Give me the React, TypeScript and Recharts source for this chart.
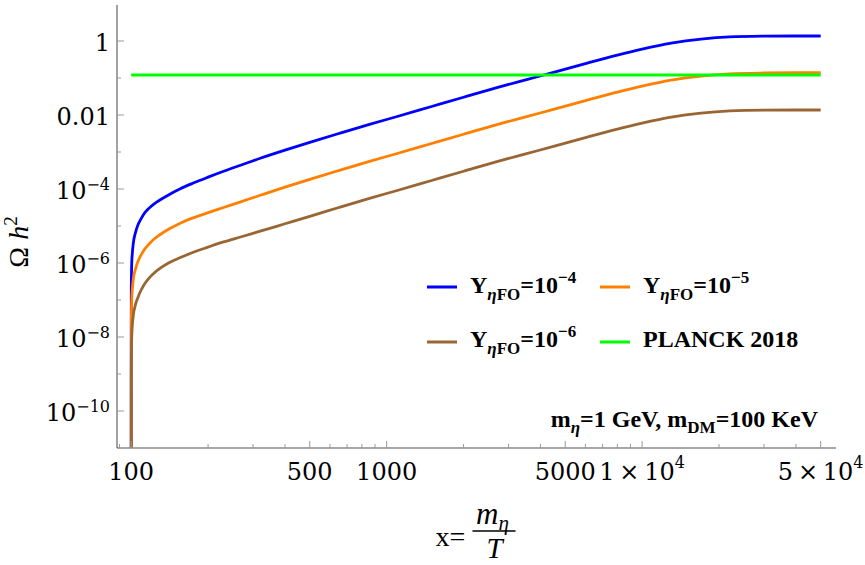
import { LineChart, Line, XAxis, YAxis, Legend, Customized } from "recharts";

// x = m_eta / T
const xVals = [
  100, 100.1, 100.5, 101, 102, 104, 106, 109, 112, 117, 123, 130, 140, 155, 175, 200, 230, 270, 320, 400,
  500, 650, 850, 1100, 1500, 2000, 2700, 3500, 4500, 6000, 8000, 10000, 13000, 17000, 22000, 30000, 40000, 50000,
];

// log10(Omega h^2), one per xVals entry
const blueLog = [
  -14, -6.7, -6.0, -5.75, -5.45, -5.17, -4.99, -4.82, -4.68, -4.53, -4.4, -4.29, -4.16, -4.0, -3.84, -3.68, -3.52, -3.35, -3.17, -2.95,
  -2.74, -2.5, -2.26, -2.04, -1.77, -1.52, -1.26, -1.05, -0.85, -0.61, -0.38, -0.22, -0.06, 0.05, 0.11, 0.13, 0.135, 0.135,
];
const orangeLog = [
  -14, -7.7, -7.0, -6.72, -6.42, -6.16, -5.98, -5.8, -5.66, -5.5, -5.35, -5.23, -5.09, -4.93, -4.78, -4.64, -4.5, -4.34, -4.17, -3.95,
  -3.74, -3.5, -3.26, -3.04, -2.77, -2.52, -2.26, -2.05, -1.85, -1.61, -1.38, -1.22, -1.06, -0.95, -0.89, -0.865, -0.858, -0.857,
];
const brownLog = [
  -14, -8.7, -8.0, -7.7, -7.4, -7.12, -6.95, -6.75, -6.6, -6.42, -6.27, -6.14, -6.0, -5.86, -5.71, -5.57, -5.43, -5.29, -5.14, -4.94,
  -4.74, -4.5, -4.26, -4.04, -3.77, -3.52, -3.26, -3.05, -2.85, -2.61, -2.38, -2.22, -2.06, -1.95, -1.89, -1.868, -1.865, -1.865,
];

// PLANCK 2018 relic density
const planckX = [100, 50000];
const planckVal = [0.12, 0.12];

const yfoExps = ["−4", "−5", "−6"];

const xMajor = [100, 500, 1000, 5000, 10000, 50000];
const xMajorLabels = [
  ["100", ""],
  ["500", ""],
  ["1000", ""],
  ["5000", ""],
  ["1\u2009×\u200910", "4"],
  ["5\u2009×\u200910", "4"],
];
const xMinor = [90, 200, 300, 400, 600, 700, 800, 900, 2000, 3000, 4000, 6000, 7000, 8000, 9000, 20000, 30000, 40000];

const yMajor = [1e-10, 1e-8, 1e-6, 1e-4, 0.01, 1];
const yMajorLabels = [
  ["10", "−10"],
  ["10", "−8"],
  ["10", "−6"],
  ["10", "−4"],
  ["0.01", ""],
  ["1", ""],
];
const yMinor = [1e-9, 1e-7, 1e-5, 1e-3, 0.1];

const rows = xVals.map((x, i) => ({
  x,
  blue: 10 ** blueLog[i],
  orange: 10 ** orangeLog[i],
  brown: 10 ** brownLog[i],
}));
const planckRows = planckX.map((x, i) => ({ x, planck: planckVal[i] }));

const xTicks = [...xMinor, ...xMajor].sort((a, b) => a - b);
const yTicks = [...yMinor, ...yMajor].sort((a, b) => a - b);

const TICK_FONT = "DejaVu Serif";
const TEXT_FONT = "Liberation Serif";
const TICK_COLOR = "#999";
const BLUE = "#0000ff";
const ORANGE = "#ff7f00";
const BROWN = "#996633";
const GREEN = "#00ff00";

function Label2({ x, y, parts, anchor, dy }: any) {
  return (
    <text x={x} y={y} textAnchor={anchor} fontFamily={TICK_FONT} fontSize={24} fill="#000">
      {parts[0]}
      {parts[1] && (
        <tspan dy={dy} fontSize={16}>
          {parts[1]}
        </tspan>
      )}
    </text>
  );
}

function XTick(props: any) {
  const { x, y, payload, side } = props;
  const i = xMajor.indexOf(payload.value);
  const len = i >= 0 ? 7 : 4;
  const dir = side === "top" ? 1 : -1;
  return (
    <g>
      <line x1={x} x2={x} y1={y} y2={y + dir * len} stroke={TICK_COLOR} />
      {side !== "top" && i >= 0 && <Label2 x={x} y={y + 32} parts={xMajorLabels[i]} anchor="middle" dy={-12} />}
    </g>
  );
}

function YTick(props: any) {
  const { x, y, payload, side } = props;
  const i = yMajor.indexOf(payload.value);
  const len = i >= 0 ? 7 : 4;
  const dir = side === "right" ? -1 : 1;
  return (
    <g>
      <line x1={x} x2={x + dir * len} y1={y} y2={y} stroke={TICK_COLOR} />
      {side !== "right" && i >= 0 && <Label2 x={x - 7} y={y + 10} parts={yMajorLabels[i]} anchor="end" dy={-9} />}
    </g>
  );
}

function XLabel({ viewBox }: any) {
  const cx = viewBox.x + viewBox.width / 2;
  return (
    <g fontFamily={TEXT_FONT} fill="#000">
      <text x={cx - 41} y={546} fontSize={28}>
        x=
      </text>
      <text x={cx + 16} y={524} fontSize={31} fontStyle="italic" textAnchor="middle">
        m
        <tspan dy={6} fontSize={21}>
          η
        </tspan>
      </text>
      <line x1={cx - 4} x2={cx + 39} y1={531} y2={531} stroke="#000" strokeWidth={1.5} />
      <text x={cx + 18} y={558} fontSize={29} fontStyle="italic" textAnchor="middle">
        T
      </text>
    </g>
  );
}

function YLabel() {
  return (
    <text
      x={28}
      y={242}
      transform="rotate(-90, 28, 242)"
      textAnchor="middle"
      fontFamily={TEXT_FONT}
      fontSize={28}
      fill="#000"
    >
      Ω <tspan fontStyle="italic">h</tspan>
      <tspan dy={-11} fontSize={19}>
        2
      </tspan>
    </text>
  );
}

function YfoText({ x, y, exp }: any) {
  return (
    <text x={x} y={y} fontFamily={TEXT_FONT} fontWeight="bold" fontSize={24} fill="#000">
      Y
      <tspan dy={7} fontSize={17}>
        <tspan fontStyle="italic">η</tspan>FO
      </tspan>
      <tspan dy={-7} fontSize={24}>
        =10
      </tspan>
      <tspan dy={-10} fontSize={17}>
        {exp}
      </tspan>
    </text>
  );
}

function LegendBox() {
  return (
    <svg width={400} height={100}>
      <line x1={7} x2={37} y1={27} y2={27} stroke={BLUE} strokeWidth={3} />
      <YfoText x={50} y={33} exp={yfoExps[0]} />
      <line x1={180} x2={210} y1={27} y2={27} stroke={ORANGE} strokeWidth={3} />
      <YfoText x={223} y={33} exp={yfoExps[1]} />
      <line x1={7} x2={37} y1={82} y2={82} stroke={BROWN} strokeWidth={3} />
      <YfoText x={50} y={87} exp={yfoExps[2]} />
      <line x1={180} x2={210} y1={82} y2={82} stroke={GREEN} strokeWidth={3} />
      <text x={223} y={87} fontFamily={TEXT_FONT} fontWeight="bold" fontSize={24} fill="#000">
        PLANCK 2018
      </text>
    </svg>
  );
}

function MassNote() {
  return (
    <text x={818} y={427} textAnchor="end" fontFamily={TEXT_FONT} fontWeight="bold" fontSize={24} fill="#000">
      m
      <tspan dy={6} fontSize={17} fontStyle="italic">
        η
      </tspan>
      <tspan dy={-6} fontSize={24}>
        =1 GeV, m
      </tspan>
      <tspan dy={6} fontSize={17}>
        DM
      </tspan>
      <tspan dy={-6} fontSize={24}>
        =100 KeV
      </tspan>
    </text>
  );
}

export default function App() {
  return (
    <div style={{ position: "absolute", left: 0, top: 0, background: "#fff" }}>
      <LineChart width={865} height={565} data={rows} margin={{ top: 5, right: 29, bottom: 0, left: 0 }}>
        <XAxis
          xAxisId="b"
          dataKey="x"
          type="number"
          scale="log"
          domain={[88, 57400]}
          allowDataOverflow
          ticks={xTicks}
          interval={0}
          tickSize={0}
          tickMargin={0}
          tickLine={false}
          height={117}
          axisLine={{ stroke: "#888", strokeWidth: 1.5 }}
          tick={(p: any) => <XTick {...p} side="bottom" />}
          label={{ content: XLabel }}
        />
        <XAxis
          xAxisId="t"
          orientation="top"
          dataKey="x"
          type="number"
          scale="log"
          domain={[88, 57400]}
          allowDataOverflow
          ticks={xTicks}
          interval={0}
          tickSize={0}
          tickMargin={0}
          tickLine={false}
          height={0}
          axisLine={{ stroke: "#444" }}
          tick={(p: any) => <XTick {...p} side="top" />}
        />
        <YAxis
          yAxisId="l"
          type="number"
          scale="log"
          domain={[1e-11, 9.4]}
          allowDataOverflow
          ticks={yTicks}
          interval={0}
          tickSize={0}
          tickMargin={0}
          tickLine={false}
          width={117}
          axisLine={{ stroke: "#444" }}
          tick={(p: any) => <YTick {...p} side="left" />}
          label={{ content: YLabel }}
        />
        <YAxis
          yAxisId="r"
          orientation="right"
          type="number"
          scale="log"
          domain={[1e-11, 9.4]}
          allowDataOverflow
          ticks={yTicks}
          interval={0}
          tickSize={0}
          tickMargin={0}
          tickLine={false}
          width={0}
          axisLine={{ stroke: "#888", strokeWidth: 1.5 }}
          tick={(p: any) => <YTick {...p} side="right" />}
        />
        <Line xAxisId="b" yAxisId="l" type="monotone" dataKey="blue" stroke={BLUE} strokeWidth={2.8} dot={false} isAnimationActive={false} />
        <Line xAxisId="b" yAxisId="l" type="monotone" dataKey="orange" stroke={ORANGE} strokeWidth={2.8} dot={false} isAnimationActive={false} />
        <Line xAxisId="b" yAxisId="l" type="monotone" dataKey="brown" stroke={BROWN} strokeWidth={2.8} dot={false} isAnimationActive={false} />
        <Line xAxisId="b" yAxisId="l" data={planckRows} dataKey="planck" stroke={GREEN} strokeWidth={3} dot={false} isAnimationActive={false} />
        <Legend
          layout="horizontal"
          align="center"
          verticalAlign="middle"
          content={LegendBox}
          wrapperStyle={{ left: 420, top: 260, width: 400, height: 100 }}
        />
        <Customized component={MassNote} />
      </LineChart>
    </div>
  );
}
